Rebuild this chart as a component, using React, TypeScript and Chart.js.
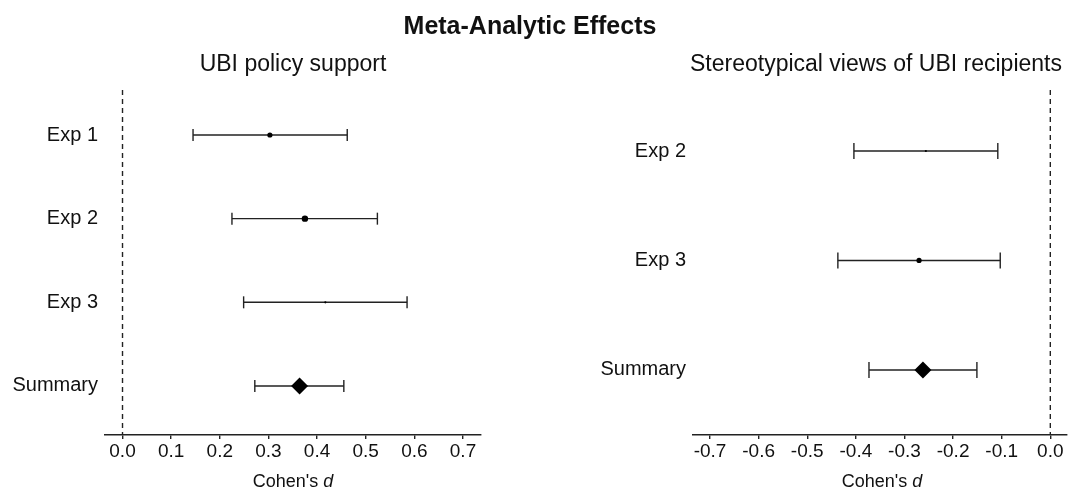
import React, { useEffect, useRef } from 'react';
import { Chart, registerables } from 'chart.js';

Chart.register(...registerables);

// ---------- data ----------
const LEFT_LABELS = ['Exp 1', 'Exp 2', 'Exp 3', 'Summary'];
const LEFT_EST = [0.303, 0.375, 0.417, 0.364];
const LEFT_LO = [0.145, 0.225, 0.249, 0.272];
const LEFT_HI = [0.462, 0.524, 0.585, 0.455];
const LEFT_TICKS = [0.0, 0.1, 0.2, 0.3, 0.4, 0.5, 0.6, 0.7];

const RIGHT_LABELS = ['Exp 2', 'Exp 3', 'Summary'];
const RIGHT_EST = [-0.256, -0.27, -0.262];
const RIGHT_LO = [-0.404, -0.437, -0.373];
const RIGHT_HI = [-0.108, -0.103, -0.151];
const RIGHT_TICKS = [-0.7, -0.6, -0.5, -0.4, -0.3, -0.2, -0.1, 0.0];

const MAIN_TITLE = 'Meta-Analytic Effects';
const LEFT_TITLE = 'UBI policy support';
const RIGHT_TITLE = 'Stereotypical views of UBI recipients';
const X_TITLE = "Cohen's ";
const X_TITLE_ITALIC = 'd';

// ---------- style ----------
const FONT = "'Liberation Sans', Arial, Helvetica, sans-serif";
const INK = '#222222';
const TEXT = '#111111';
const LW = 1.4;
const H = 491;

type Panel = {
  labels: string[];
  est: number[];
  lo: number[];
  hi: number[];
  ticks: number[];
  xMin: number;
  xMax: number;
  yMin: number;
  yMax: number;
  yAxisWidth: number;
  padRight: number;
  canvasW: number;
  capR: number;
  radii: number[];
  styles: string[];
};

const LEFT_PANEL: Panel = {
  labels: LEFT_LABELS,
  est: LEFT_EST,
  lo: LEFT_LO,
  hi: LEFT_HI,
  ticks: LEFT_TICKS,
  xMin: -0.036,
  xMax: 0.737,
  yMin: 0.462,
  yMax: 4.586,
  yAxisWidth: 105,
  padRight: 54,
  canvasW: 535,
  capR: 6,
  radii: [2.6, 3.2, 1.1, 8.5],
  styles: ['circle', 'circle', 'circle', 'rectRot'],
};

const RIGHT_PANEL: Panel = {
  labels: RIGHT_LABELS,
  est: RIGHT_EST,
  lo: RIGHT_LO,
  hi: RIGHT_HI,
  ticks: RIGHT_TICKS,
  xMin: -0.735,
  xMax: 0.0335,
  yMin: 0.443,
  yMax: 3.594,
  yAxisWidth: 158,
  padRight: 3,
  canvasW: 541,
  capR: 8,
  radii: [1.1, 2.6, 8.5],
  styles: ['circle', 'circle', 'rectRot'],
};

function makeConfig(p: Panel): any {
  const rows = p.labels.map((_, i) => i + 1);
  const estSet = {
    type: 'scatter',
    data: rows.map((r, i) => ({ x: p.est[i], y: r })),
    pointStyle: p.styles,
    pointRadius: p.radii,
    pointHoverRadius: p.radii,
    backgroundColor: '#000',
    borderColor: '#000',
    pointBorderWidth: 0,
    showLine: false,
  };
  const ciSets = rows.map((r, i) => ({
    type: 'line',
    data: [
      { x: p.lo[i], y: r },
      { x: p.hi[i], y: r },
    ],
    showLine: true,
    fill: false,
    borderColor: INK,
    borderWidth: LW,
    pointStyle: 'line',
    pointRotation: 90,
    pointRadius: p.capR,
    pointHoverRadius: p.capR,
    pointBorderColor: INK,
    pointBorderWidth: LW,
    tension: 0,
  }));
  const zeroSet = {
    type: 'line',
    data: [
      { x: 0, y: p.yMin },
      { x: 0, y: p.yMax },
    ],
    showLine: true,
    fill: false,
    borderColor: INK,
    borderWidth: LW,
    borderDash: [5, 4],
    pointRadius: 0,
    pointHoverRadius: 0,
  };
  return {
    type: 'scatter',
    data: { datasets: [estSet, ...ciSets, zeroSet] },
    options: {
      animation: false,
      responsive: false,
      events: [],
      layout: { padding: { top: 90, right: p.padRight, bottom: 0, left: 0 } },
      plugins: { legend: { display: false }, tooltip: { enabled: false }, title: { display: false } },
      scales: {
        x: {
          type: 'linear',
          position: 'bottom',
          min: p.xMin,
          max: p.xMax,
          afterBuildTicks: (s: any) => {
            s.ticks = p.ticks.map((v) => ({ value: v }));
          },
          afterFit: (s: any) => {
            s.height = 56;
            s.paddingLeft = 0;
            s.paddingRight = 0;
          },
          ticks: {
            callback: (v: any) => Number(v).toFixed(1),
            font: { family: FONT, size: 19 },
            color: TEXT,
            padding: 1,
            maxRotation: 0,
            minRotation: 0,
            autoSkip: false,
          },
          grid: {
            drawOnChartArea: false,
            drawTicks: true,
            tickLength: 4,
            color: INK,
            lineWidth: LW,
          },
          border: { display: true, color: INK, width: LW },
        },
        y: {
          type: 'linear',
          position: 'left',
          reverse: true,
          min: p.yMin,
          max: p.yMax,
          afterBuildTicks: (s: any) => {
            s.ticks = rows.map((v) => ({ value: v }));
          },
          afterFit: (s: any) => {
            s.width = p.yAxisWidth;
            s.paddingTop = 0;
            s.paddingBottom = 0;
          },
          ticks: {
            callback: (v: any) => p.labels[Math.round(Number(v)) - 1],
            font: { family: FONT, size: 20 },
            color: TEXT,
            padding: 7,
            autoSkip: false,
          },
          grid: { display: false, drawTicks: false },
          border: { display: false },
        },
      },
    },
  };
}

function PanelChart({ panel, left }: { panel: Panel; left: number }) {
  const ref = useRef<HTMLCanvasElement | null>(null);
  useEffect(() => {
    if (!ref.current) return;
    const chart = new Chart(ref.current, makeConfig(panel));
    return () => chart.destroy();
  }, [panel]);
  return (
    <canvas
      ref={ref}
      width={panel.canvasW}
      height={H}
      style={{ position: 'absolute', left, top: 0, width: panel.canvasW, height: H }}
    />
  );
}

function Label({
  children,
  cx,
  top,
  size,
  bold,
}: {
  children: any;
  cx: number;
  top: number;
  size: number;
  bold?: boolean;
}) {
  return (
    <div
      style={{
        position: 'absolute',
        left: cx - 250,
        width: 500,
        top,
        textAlign: 'center',
        fontFamily: FONT,
        fontSize: size,
        lineHeight: 1,
        fontWeight: bold ? 700 : 400,
        color: TEXT,
        whiteSpace: 'nowrap',
      }}
    >
      {children}
    </div>
  );
}

export default function App() {
  return (
    <div
      style={{
        position: 'absolute',
        left: 0,
        top: 0,
        width: 1070,
        height: 491,
        background: '#ffffff',
        overflow: 'hidden',
      }}
    >
      <PanelChart panel={LEFT_PANEL} left={0} />
      <PanelChart panel={RIGHT_PANEL} left={535} />
      <Label cx={530} top={13} size={25} bold>
        {MAIN_TITLE}
      </Label>
      <Label cx={293} top={52} size={23}>
        {LEFT_TITLE}
      </Label>
      <Label cx={876} top={52} size={23}>
        {RIGHT_TITLE}
      </Label>
      <Label cx={293} top={472} size={18}>
        {X_TITLE}
        <i>{X_TITLE_ITALIC}</i>
      </Label>
      <Label cx={882} top={472} size={18}>
        {X_TITLE}
        <i>{X_TITLE_ITALIC}</i>
      </Label>
    </div>
  );
}
